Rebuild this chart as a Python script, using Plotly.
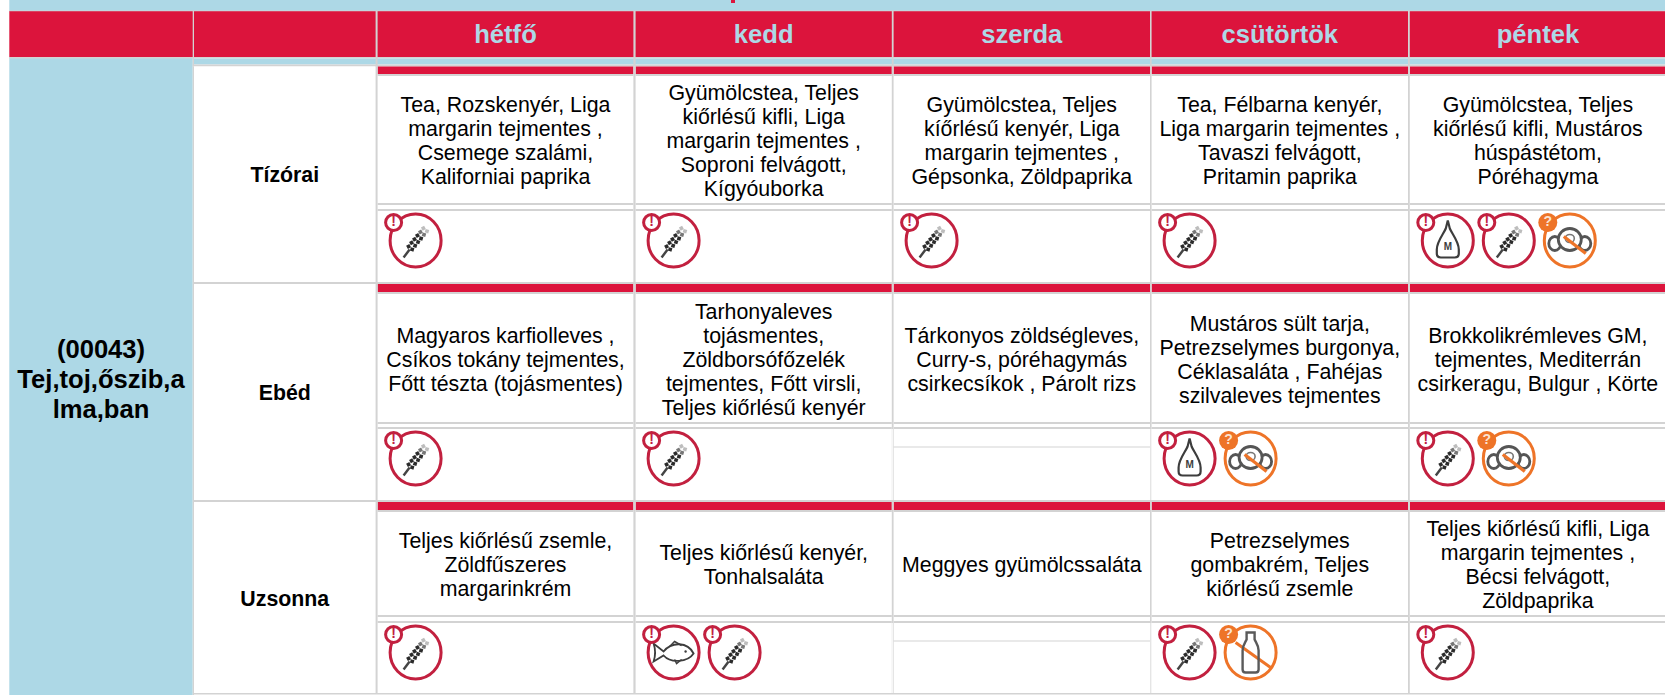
import plotly.graph_objects as go

# ---------- data ----------
group_label = ["(00043)", "Tej,toj,őszib,a", "lma,ban"]
days = ["hétfő", "kedd", "szerda", "csütörtök", "péntek"]
meals = ["Tízórai", "Ebéd", "Uzsonna"]

tizorai_menu = [
    ["Tea, Rozskenyér, Liga", "margarin tejmentes ,", "Csemege szalámi,", "Kaliforniai paprika"],
    ["Gyümölcstea, Teljes", "kiőrlésű kifli, Liga", "margarin tejmentes ,", "Soproni felvágott,", "Kígyóuborka"],
    ["Gyümölcstea, Teljes", "kíőrlésű kenyér, Liga", "margarin tejmentes ,", "Gépsonka, Zöldpaprika"],
    ["Tea, Félbarna kenyér,", "Liga margarin tejmentes ,", "Tavaszi felvágott,", "Pritamin paprika"],
    ["Gyümölcstea, Teljes", "kiőrlésű kifli, Mustáros", "húspástétom,", "Póréhagyma"],
]
ebed_menu = [
    ["Magyaros karfiolleves ,", "Csíkos tokány tejmentes,", "Főtt tészta (tojásmentes)"],
    ["Tarhonyaleves", "tojásmentes,", "Zöldborsófőzelék", "tejmentes, Főtt virsli,", "Teljes kiőrlésű kenyér"],
    ["Tárkonyos zöldségleves,", "Curry-s, póréhagymás", "csirkecsíkok , Párolt rizs"],
    ["Mustáros sült tarja,", "Petrezselymes burgonya,", "Céklasaláta , Fahéjas", "szilvaleves tejmentes"],
    ["Brokkolikrémleves GM,", "tejmentes, Mediterrán", "csirkeragu, Bulgur , Körte"],
]
uzsonna_menu = [
    ["Teljes kiőrlésű zsemle,", "Zöldfűszeres", "margarinkrém"],
    ["Teljes kiőrlésű kenyér,", "Tonhalsaláta"],
    ["Meggyes gyümölcssaláta"],
    ["Petrezselymes", "gombakrém, Teljes", "kiőrlésű zsemle"],
    ["Teljes kiőrlésű kifli, Liga", "margarin tejmentes ,", "Bécsi felvágott,", "Zöldpaprika"],
]
tizorai_icons = [["wheat"], ["wheat"], ["wheat"], ["wheat"], ["mustard", "wheat", "soy"]]
ebed_icons = [["wheat"], ["wheat"], [], ["mustard", "soy"], ["wheat", "soy"]]
uzsonna_icons = [["wheat"], ["fish", "wheat"], [], ["wheat", "milk"], ["wheat"]]

menus = [tizorai_menu, ebed_menu, uzsonna_menu]
icons = [tizorai_icons, ebed_icons, uzsonna_icons]

# ---------- layout ----------
W, H = 1665, 695
RED, BLUE, GREY = "#dc143c", "#add8e6", "#d3d3d3"
RING_RED, RING_ORANGE, INK = "#c2203f", "#ee7428", "#3d3d3d"
FONT = "Liberation Sans"
LEFT, C1_R, C2_L, C2_R = 9.3, 192.7, 194, 375.6
COL_L = [377.6, 635.6, 893.6, 1151.6, 1409.8]
COL_R = [633.4, 891.8, 1150, 1408, W]
# y: red strip top, strip bottom, text top, text bottom, icon top, icon bottom
BLOCKS = [(66.6, 74, 76, 203, 211, 282), (284, 292, 294, 422, 429, 500), (502, 510, 512, 615, 623, 693)]
HEAD_T, HEAD_B = 11, 57
LINE = 24
ICON_DX, ICON_STEP = 38, 61

shapes = []
def rect(x0, y0, x1, y1, c):
    shapes.append(dict(type="rect", x0=x0, x1=x1, y0=y0, y1=y1, fillcolor=c, line=dict(width=0), layer="below"))
def path(d, color=None, w=2.0, fill=None, op=1.0):
    shapes.append(dict(type="path", path=d, layer="below", opacity=op,
                       line=dict(color=color or "rgba(0,0,0,0)", width=w if color else 0),
                       fillcolor=fill or "rgba(0,0,0,0)"))
def ell(cx, cy, rx, ry, color=None, w=2.0, fill=None, op=1.0):
    shapes.append(dict(type="circle", x0=cx-rx, x1=cx+rx, y0=cy-ry, y1=cy+ry, layer="below", opacity=op,
                       line=dict(color=color or "rgba(0,0,0,0)", width=w if color else 0),
                       fillcolor=fill or "rgba(0,0,0,0)"))
def seg(x0, y0, x1, y1, color, w, op=1.0):
    shapes.append(dict(type="line", x0=x0, x1=x1, y0=y0, y1=y1, layer="below", opacity=op, line=dict(color=color, width=w)))

text_M, text_excl, text_q = ([], []), ([], []), ([], [])

def draw_wheat(cx, cy):
    ax, ay = 0.63, -0.776      # spike direction
    px, py = 0.776, 0.63       # perpendicular
    seg(cx-12, cy+17, cx-6, cy+9, "#444444", 2.4)
    for i in range(6):
        t = -9 + i*4.7
        c = "#2b2b2b" if i < 4 else ("#777777" if i == 4 else "#bdbdbd")
        for s in (-1, 1):
            x0 = cx + ax*t + px*0.6*s
            y0 = cy + ay*t + py*0.6*s + 1
            x1 = x0 + px*3.4*s + ax*1.4
            y1 = y0 + py*3.4*s + ay*1.4
            seg(x0, y0, x1, y1, c, 3.6)

def draw_mustard(cx, cy):
    text_M[0].append(cx); text_M[1].append(cy + 7)
    path(f"M {cx} {cy-20} L {cx+2} {cy-12} "
         f"C {cx+4} {cy-7} {cx+11} {cy+1} {cx+11} {cy+9} L {cx+11} {cy+13} Q {cx+11} {cy+17} {cx+7} {cy+17} "
         f"L {cx-7} {cy+17} Q {cx-11} {cy+17} {cx-11} {cy+13} L {cx-11} {cy+9} "
         f"C {cx-11} {cy+1} {cx-4} {cy-7} {cx-2} {cy-12} Z", color=INK, w=2.2)

def draw_soy(cx, cy):
    ell(cx-15, cy+3, 6, 7, color="#555555", w=2.8)
    ell(cx+15, cy+3, 6, 7, color="#555555", w=2.8)
    ell(cx, cy-1, 11.5, 11, color="#555555", w=2.8, fill="white")
    ell(cx, cy-2, 4.5, 4, color="#777777", w=1.6)
    seg(cx-6, cy-4, cx+16, cy+13, RING_ORANGE, 3.2)

def draw_fish(cx, cy):
    path(f"M {cx+20} {cy+1} C {cx+14} {cy-11} {cx-2} {cy-11} {cx-10} {cy-1} L {cx-20} {cy-9} "
         f"C {cx-18} {cy-3} {cx-18} {cy+3} {cx-20} {cy+9} L {cx-10} {cy+3} "
         f"C {cx-3} {cy+11} {cx+14} {cy+10} {cx+20} {cy+1} Z", color=INK, w=1.8, fill="white")
    path(f"M {cx-4} {cy-6} L {cx+1} {cy-11} L {cx+8} {cy-7}", color=INK, w=1.5)
    path(f"M {cx+1} {cy+7} L {cx+3} {cy+11} L {cx+8} {cy+7}", color=INK, w=1.5)
    ell(cx+12, cy-1, 1.2, 1.2, fill=INK)

def draw_milk(cx, cy):
    seg(cx-15, cy-10, cx+20, cy+15, RING_ORANGE, 3)
    path(f"M {cx-4} {cy-20} L {cx+4} {cy-20} L {cx+4} {cy-13} C {cx+6} {cy-9} {cx+8} {cy-7} {cx+8} {cy-2} "
         f"L {cx+8} {cy+17} Q {cx+8} {cy+20} {cx+5} {cy+20} L {cx-5} {cy+20} Q {cx-8} {cy+20} {cx-8} {cy+17} "
         f"L {cx-8} {cy-2} C {cx-8} {cy-7} {cx-6} {cy-9} {cx-4} {cy-13} Z", color="#5a5a5a", w=2.4)

DRAW = dict(wheat=draw_wheat, mustard=draw_mustard, soy=draw_soy, fish=draw_fish, milk=draw_milk)
MAY_CONTAIN = {"soy", "milk"}

def draw_icon(name, cx, cy):
    orange = name in MAY_CONTAIN
    ring = RING_ORANGE if orange else RING_RED
    ell(cx, cy, 25.5, 26.5, color=ring, w=3)
    DRAW[name](cx, cy)
    bx, by = cx - 22, cy - 18
    if orange:
        ell(bx, by, 9.5, 9.5, fill=ring)
        text_q[0].append(bx); text_q[1].append(by)
    else:
        ell(bx, by, 8, 8, color=ring, w=3, fill="white")
        text_excl[0].append(bx); text_excl[1].append(by)

# page and header bands
rect(LEFT, 0, W, HEAD_T, BLUE)
rect(LEFT, HEAD_B, C1_R, H, BLUE)
rect(LEFT, HEAD_T, W, HEAD_B, RED)
rect(LEFT, HEAD_T-0.5, W, HEAD_T+0.3, GREY)
rect(LEFT, HEAD_B, W, HEAD_B+1.4, GREY)
rect(C1_R, HEAD_B+1.4, W, 64.6, BLUE)
rect(C1_R, 64.6, W, BLOCKS[0][0], GREY)
rect(731, 0, 735, 3, RED)            # clipped descender of the page title

# table blocks
for bi, (r0, r1, t0, t1, i0, i1) in enumerate(BLOCKS):
    rect(C2_L, r0, C2_R, i1, "white")
    for cl, cr in zip(COL_L, COL_R):
        rect(cl, r0, cr, r1, RED)
        rect(cl, r1, cr, t0, GREY)
        rect(cl, t0, cr, t1, "white")
        rect(cl, t1, cr, t1+2, GREY)
        rect(cl, t1+2, cr, i0-2, "white")
        rect(cl, i0-2, cr, i0, GREY)
        rect(cl, i0, cr, i1, "white")
    rect(C2_L, i1, W, i1+2 if bi < 2 else i1+1.4, GREY)
    # thin rule in the empty allergen cell
    if not icons[bi][2]:
        rect(COL_L[2], i0+17.5, COL_R[2], i0+18.6, GREY)

# vertical rules
for x0, x1 in [(C1_R, C2_L), (C2_R, COL_L[0])] + [(COL_R[i], COL_L[i+1]) for i in range(4)]:
    rect(x0, HEAD_T, x1, HEAD_B, GREY)
    rect(x0, HEAD_B, x1, BLOCKS[0][0], GREY)
    rect(x0, BLOCKS[0][0], x1, H-1.4 if x0 > C1_R else H, GREY)
# empty-cell columns thin out
for bi in range(1, 3):
    i0, i1 = BLOCKS[bi][4], BLOCKS[bi][5]
    rect(COL_R[1], i0, COL_R[1]+1, i1, "white")
    rect(COL_R[2]+0.6, i0, COL_L[3], i1, "white")

# text arrays
body_x, body_y, body_t = [], [], []
for bi, (r0, r1, t0, t1, i0, i1) in enumerate(BLOCKS):
    for ci in range(5):
        lines = menus[bi][ci]
        cx = (COL_L[ci] + COL_R[ci]) / 2 if ci < 4 else (COL_L[4] + 1666) / 2
        mid = (t0 + t1) / 2 + 3.5
        for li, s in enumerate(lines):
            body_x.append(cx); body_y.append(mid + (li - (len(lines)-1)/2) * LINE); body_t.append(s)
        for k, name in enumerate(icons[bi][ci]):
            draw_icon(name, COL_L[ci] + ICON_DX + k*ICON_STEP, i0 + 29.5)

def txt(x, y, t, size, color="black", bold=False):
    return go.Scatter(x=x, y=y, text=t, mode="text", textposition="middle center", hoverinfo="skip",
                      cliponaxis=False, showlegend=False,
                      textfont=dict(family=FONT, size=size, color=color, weight="bold" if bold else "normal"))

fig = go.Figure()
fig.add_trace(txt(body_x, body_y, body_t, 21.33))
fig.add_trace(txt([(C2_L+C2_R)/2]*3, [(b[0]+b[5])/2 + 2.7 for b in BLOCKS], meals, 21.33, bold=True))
fig.add_trace(txt([(COL_L[i]+(COL_R[i] if i < 4 else 1666))/2 for i in range(5)], [36.5]*5, days, 25.6, BLUE, True))
fig.add_trace(txt([(LEFT+C1_R)/2]*3, [382 + (i-1)*30 for i in range(3)], group_label, 25.6, bold=True))
fig.add_trace(txt(text_excl[0], text_excl[1], ["!"]*len(text_excl[0]), 14, RING_RED, True))
fig.add_trace(txt(text_q[0], text_q[1], ["?"]*len(text_q[0]), 14, "#fbe3d2", True))
fig.add_trace(txt(text_M[0], text_M[1], ["M"]*len(text_M[0]), 10, INK, True))

fig.update_layout(
    width=W, height=H, margin=dict(l=0, r=0, t=0, b=0),
    paper_bgcolor="white", plot_bgcolor="white", shapes=shapes, showlegend=False,
    xaxis=dict(range=[0, W], visible=False, fixedrange=True),
    yaxis=dict(range=[H, 0], visible=False, fixedrange=True),
)
fig.write_html("out.html", config=dict(displayModeBar=False),
               post_script="document.body.style.margin='0';document.documentElement.style.overflow='hidden';")
